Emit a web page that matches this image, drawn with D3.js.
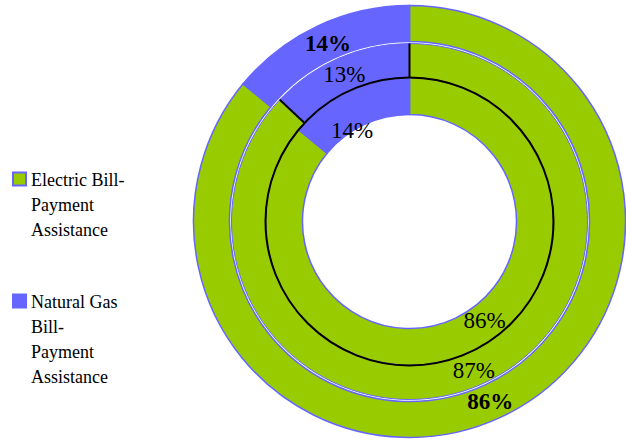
<!DOCTYPE html>
<html><head><meta charset="utf-8">
<script src="https://cdn.jsdelivr.net/npm/d3@7/dist/d3.min.js"></script>
<style>body{margin:0;background:#fff}svg{display:block}</style>
</head><body><svg id="c" width="626" height="440"></svg>
<script>
// Data
const categories = ["Electric Bill-Payment Assistance", "Natural Gas Bill-Payment Assistance"];
const legendLines = [["Electric Bill-", "Payment", "Assistance"], ["Natural Gas", "Bill-", "Payment", "Assistance"]];
const innerRing = [86, 14];
const middleRing = [87, 13];
const outerRing = [86, 14];

const colors = ["#99CC00", "#6666FF"];
const FONT = "Liberation Serif";
const svg = d3.select("#c");
const cx = 409.5, cy = 221.5;
const g = svg.append("g").attr("transform", `translate(${cx},${cy})`);
const pie = d3.pie().sort(null).value(d => d);

const rings = [
  {data: innerRing, r0: 107, r1: 144, bold: false, lr: [124, 108], da: [-12, -7]},
  {data: middleRing, r0: 144, r1: 178, bold: false, lr: [162, 161], da: [0, -0.5]},
  {data: outerRing, r0: 180, r1: 216, bold: true, lr: [197, 196], da: [1, 0.6]}
];

rings.forEach((ring, ri) => {
  const arcs = pie(ring.data);
  const arc = d3.arc().innerRadius(ring.r0).outerRadius(ring.r1);
  g.selectAll(null).data(arcs).enter().append("path")
    .attr("d", arc)
    .attr("fill", (d, i) => colors[i])
    .attr("stroke", "#6666FF")
    .attr("stroke-width", ri === 1 ? 1 : 1.5);
  ring.arcs = arcs;
});

// Black outline on middle ring: inner circle and radial boundaries
const mid = rings[1];
g.append("circle").attr("r", mid.r0).attr("fill", "none").attr("stroke", "#000").attr("stroke-width", 2);
mid.arcs.forEach(a => {
  const t = a.startAngle;
  g.append("line")
    .attr("x1", Math.sin(t) * mid.r0).attr("y1", -Math.cos(t) * mid.r0)
    .attr("x2", Math.sin(t) * mid.r1).attr("y2", -Math.cos(t) * mid.r1)
    .attr("stroke", "#000").attr("stroke-width", 2);
});

// Labels
rings.forEach(ring => {
  ring.arcs.forEach((a, i) => {
    const t = (a.startAngle + a.endAngle) / 2 + ring.da[i] * Math.PI / 180;
    const r = ring.lr[i];
    g.append("text")
      .attr("x", Math.sin(t) * r).attr("y", -Math.cos(t) * r)
      .attr("dy", "0.35em")
      .attr("text-anchor", "middle")
      .attr("font-family", FONT)
      .attr("font-size", 23)
      .attr("font-weight", ring.bold ? "bold" : "normal")
      .attr("fill", "#000")
      .text(a.data + "%");
  });
});

// Legend
const lg = svg.append("g");
const legendTop = [172, 294];
categories.forEach((c, i) => {
  lg.append("rect").attr("x", 13).attr("y", legendTop[i] + 0.5).attr("width", 13).attr("height", 13)
    .attr("fill", colors[i]).attr("stroke", "#6666FF").attr("stroke-width", 2);
  const t = lg.append("text").attr("font-family", FONT).attr("font-size", 18).attr("fill", "#000");
  legendLines[i].forEach((line, j) => {
    t.append("tspan").attr("x", 31).attr("y", legendTop[i] + 14 + j * 25).text(line);
  });
});
</script></body></html>
